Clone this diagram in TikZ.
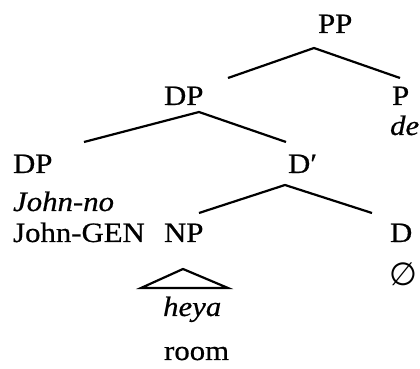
\documentclass[tikz,border=0pt]{standalone}
\usepackage{fontspec}
\setmainfont[FakeStretch=1.1, FakeBold=0.6]{Liberation Serif}
\newfontfamily\emptysetfont{DejaVu Sans}
\begin{document}
\begin{tikzpicture}[x=0.5pt, y=-0.5pt, line width=1.1pt,
    cat/.style={inner sep=0pt, anchor=base west, font=\fontsize{14}{16}\selectfont},
    gloss/.style={cat, font=\fontsize{14}{16}\selectfont\itshape}]
\useasboundingbox (0,0) rectangle (420,369);
% labels
\node[cat] (PP) at (317,33) {PP};
\node[cat] (DPa) at (163,105) {DP};
\node[cat] (P) at (391,105) {P};
\node[gloss] (de) at (389,135) {de};
\node[cat] (DPb) at (12,173) {DP};
\node[cat] (Dbar) at (287,173) {D′};
\node[gloss] (johnno) at (12,211) {John-no};
\node[cat] (johngen) at (12,242) {John-GEN};
\node[cat] (NP) at (163,242) {NP};
\node[cat] (D) at (389,242) {D};
\node[cat, font=\fontsize{16}{18}\emptysetfont] (null) at (388,286) {∅};
\node[gloss] (heya) at (162,316) {heya};
\node[cat] (room) at (163,360) {room};
% branches
\draw ([shift={(65,-27)}]DPa.base west) -- ([shift={(-3,15)}]PP.base west)
    -- ([shift={(9,-27)}]P.base west);
\draw ([shift={(72,-31)}]DPb.base west) -- ([shift={(36,7)}]DPa.base west)
    -- ([shift={(-1,-31)}]Dbar.base west);
\draw ([shift={(36,-29)}]NP.base west) -- ([shift={(-2,12)}]Dbar.base west)
    -- ([shift={(-17,-29)}]D.base west);
% triangle
\draw ([shift={(-21,-28)}]heya.base west) -- ([shift={(20,27)}]NP.base west)
    -- ([shift={(66,-28)}]heya.base west) -- cycle;
\end{tikzpicture}
\end{document}
